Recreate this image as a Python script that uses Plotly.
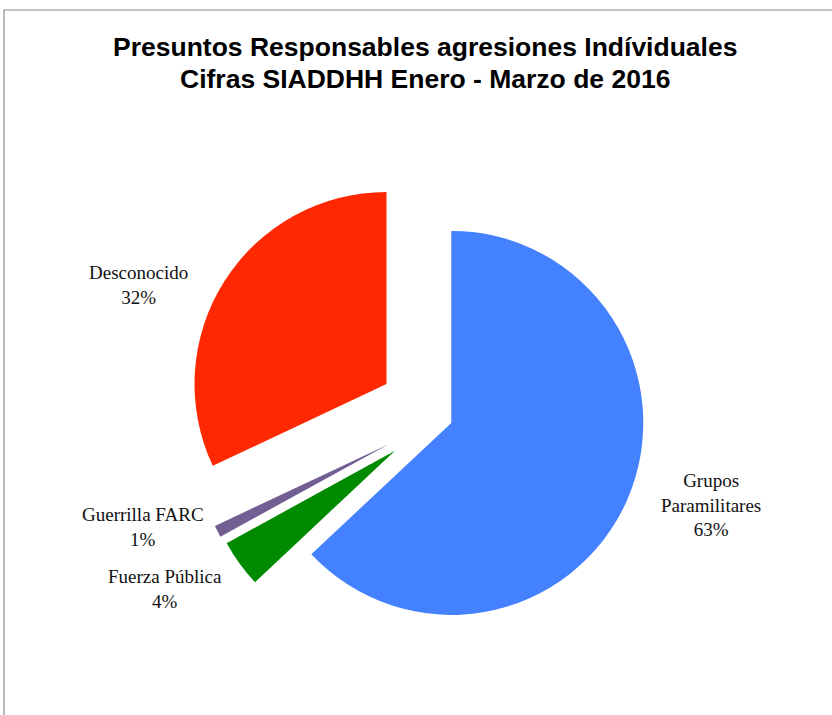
import plotly.graph_objects as go

# ---- data ----
categories = ["Grupos Paramilitares", "Fuerza Pública", "Guerrilla FARC", "Desconocido"]
label_lines = ["Grupos<br>Paramilitares", "Fuerza Pública", "Guerrilla FARC", "Desconocido"]
values = [63, 4, 1, 32]
colors = ["#4381FF", "#008A00", "#735E93", "#FF2800"]
pulls = [0.064, 0.29, 0.30, 0.33]

title_lines = ["Presuntos Responsables agresiones Indíviduales",
               "Cifras SIADDHH Enero - Marzo de 2016"]

# label anchor positions in pixels (center of text block)
label_pos = [(711, 505), (165, 589), (143, 527), (138, 285)]
title_pos = [(425, 47), (425, 79)]

W, H = 832, 715
cx, cy, r = 440, 418, 192
maxpull = max(pulls)
half = r * (1 + maxpull)

fig = go.Figure()
fig.add_trace(go.Pie(
    labels=categories,
    values=values,
    sort=False,
    direction="clockwise",
    rotation=0,
    pull=pulls,
    marker=dict(colors=colors, line=dict(width=0)),
    textinfo="none",
    hoverinfo="label+percent",
    domain=dict(x=[(cx - half) / W, (cx + half) / W],
                y=[1 - (cy + half) / H, 1 - (cy - half) / H]),
))

total = sum(values)
for lab, v, (px, py) in zip(label_lines, values, label_pos):
    pct = round(100 * v / total)
    fig.add_annotation(
        x=px / W, y=1 - py / H, xref="paper", yref="paper",
        text=f"{lab}<br>{pct}%", showarrow=False,
        xanchor="center", yanchor="middle", align="center",
        font=dict(family="Liberation Serif", size=19, color="#111111"),
    )

for line, (px, py) in zip(title_lines, title_pos):
    fig.add_annotation(
        x=px / W, y=1 - py / H, xref="paper", yref="paper",
        text="<b>" + line + "</b>", showarrow=False,
        xanchor="center", yanchor="middle", align="center",
        font=dict(family="Liberation Sans", size=26.5, color="#000000"),
    )

# chart frame (left and top edges visible)
fig.add_shape(type="rect", xref="paper", yref="paper",
              x0=4 / W, x1=1.02, y0=-0.02, y1=1 - 10 / H,
              line=dict(color="#8C8C8C", width=1.2), fillcolor="rgba(0,0,0,0)")

fig.update_layout(
    width=W, height=H,
    margin=dict(l=0, r=0, t=0, b=0),
    paper_bgcolor="white", plot_bgcolor="white",
    showlegend=False,
)

fig.write_html("out.html",
               config={"displayModeBar": False},
               post_script="document.body.style.margin='0';document.body.style.padding='0';")
